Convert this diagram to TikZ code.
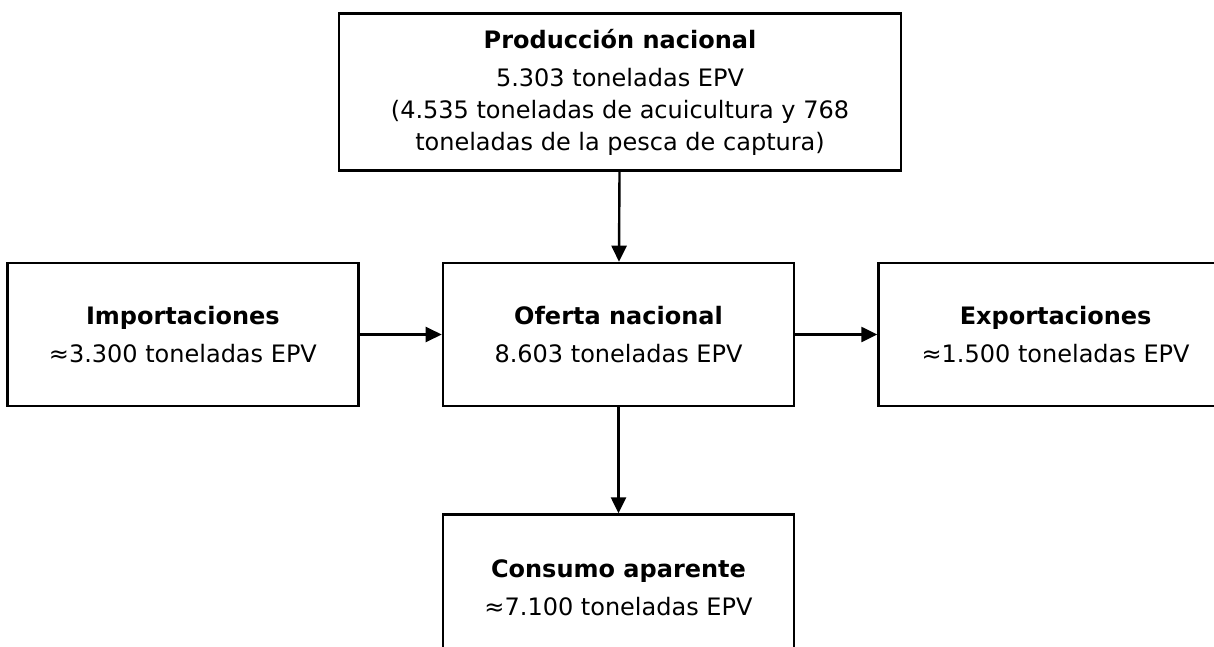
\documentclass[tikz,border=0pt]{standalone}
\usepackage{fontspec}
\setmainfont{DejaVu Sans}
\usepackage{tikz}
\usetikzlibrary{arrows.meta}
\usetikzlibrary{positioning}

\begin{document}
\begin{tikzpicture}[x=1pt,y=-1pt,
    box/.style={draw, line width=2.6pt, minimum width=351pt, minimum height=143pt,
        align=center, inner sep=0pt, font=\fontsize{24}{32}\selectfont},
    flow/.style={draw, line width=2.4pt, -{Triangle[length=16pt,width=15pt]}},
    node distance=82pt]
    \useasboundingbox (0,0) rectangle (1214,647);
    \node [box] (oferta) at (618.5,334.5) {\textbf{Oferta nacional}\\[6pt]8.603 toneladas EPV};
    \node [box, left=of oferta] (import) {\textbf{Importaciones}\\[6pt]≈3.300 toneladas EPV};
    \node [box, right=of oferta, minimum width=354pt] (export) {\textbf{Exportaciones}\\[6pt]≈1.500 toneladas EPV};
    \node [box, above=90pt of oferta, xshift=1.5pt, minimum width=562pt, minimum height=157pt] (prod)
        {\textbf{Producción nacional}\\[6pt]5.303 toneladas EPV\\(4.535 toneladas de acuicultura y 768\\toneladas de la pesca de captura)};
    \node [box, below=106pt of oferta, minimum height=146pt] (consumo) {\textbf{Consumo aparente}\\[6pt]≈7.100 toneladas EPV};
    \draw [flow] (prod) -- (oferta);
    \draw [flow] (import) -- (oferta);
    \draw [flow] (oferta) -- (export);
    \draw [flow] (oferta) -- (consumo);
\end{tikzpicture}
\end{document}
